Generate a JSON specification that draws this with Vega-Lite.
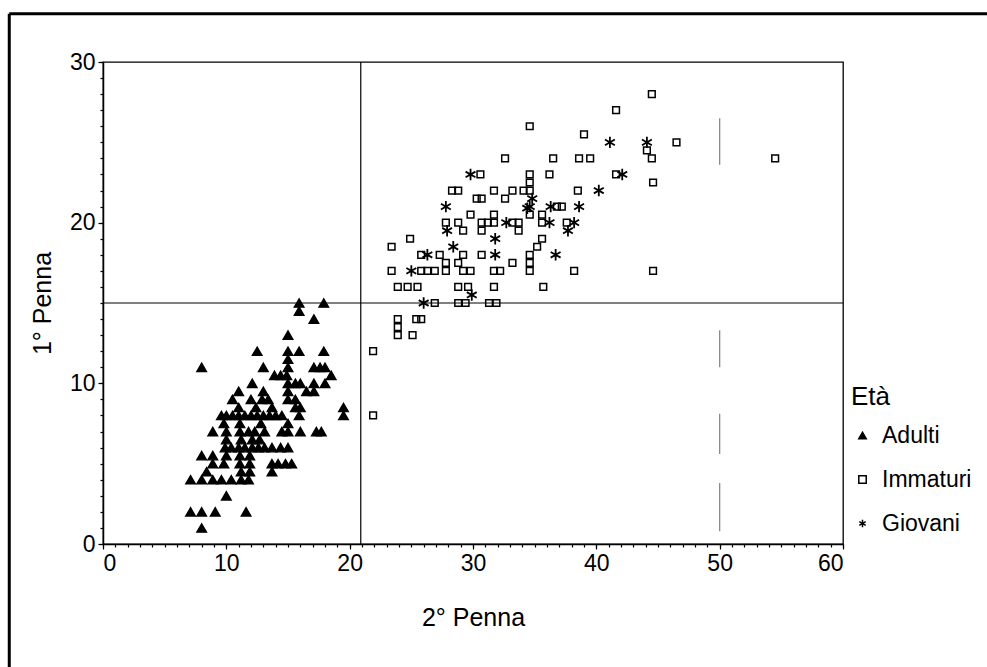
{
  "$schema": "https://vega.github.io/schema/vega-lite/v6.json",
  "width": 740,
  "height": 482,
  "autosize": {"type": "none"},
  "padding": {"left": 103, "top": 62, "right": 144, "bottom": 123},
  "background": "white",
  "resolve": {"axis": {"x": "independent", "y": "independent"}},
  "config": {
    "font": "Liberation Sans",
    "view": {"stroke": "black", "strokeWidth": 1.3},
    "axis": {
      "grid": false,
      "domainColor": "black",
      "domainWidth": 1.5,
      "tickColor": "black",
      "tickSize": 4,
      "tickWidth": 1.2,
      "labelColor": "black",
      "labelFontSize": 23,
      "labelFont": "Liberation Sans",
      "titleFont": "Liberation Sans",
      "titleFontSize": 25,
      "titleFontWeight": "normal",
      "titleColor": "black"
    },
    "legend": {
      "titleFont": "Liberation Sans",
      "titleFontSize": 26,
      "titleFontWeight": "normal",
      "titleColor": "black",
      "titlePadding": 14,
      "labelFont": "Liberation Sans",
      "labelFontSize": 23,
      "labelColor": "black",
      "labelOffset": 8,
      "rowPadding": 20,
      "symbolSize": 55
    }
  },
  "datasets": {
    "punti": [
      {"p2": 15.9, "p1": 15, "eta": "Adulti"}, {"p2": 17.9, "p1": 15, "eta": "Adulti"},
      {"p2": 15.9, "p1": 14.5, "eta": "Adulti"}, {"p2": 17.1, "p1": 14, "eta": "Adulti"},
      {"p2": 15.0, "p1": 13, "eta": "Adulti"},
      {"p2": 12.5, "p1": 12, "eta": "Adulti"}, {"p2": 15.0, "p1": 12, "eta": "Adulti"}, {"p2": 15.9, "p1": 12, "eta": "Adulti"}, {"p2": 17.9, "p1": 12, "eta": "Adulti"},
      {"p2": 15.0, "p1": 11.5, "eta": "Adulti"},
      {"p2": 8.0, "p1": 11, "eta": "Adulti"}, {"p2": 13.0, "p1": 11, "eta": "Adulti"}, {"p2": 15.0, "p1": 11, "eta": "Adulti"}, {"p2": 17.1, "p1": 11, "eta": "Adulti"}, {"p2": 17.6, "p1": 11, "eta": "Adulti"}, {"p2": 18.0, "p1": 11, "eta": "Adulti"},
      {"p2": 13.9, "p1": 10.5, "eta": "Adulti"}, {"p2": 14.4, "p1": 10.5, "eta": "Adulti"}, {"p2": 14.9, "p1": 10.5, "eta": "Adulti"}, {"p2": 18.5, "p1": 10.5, "eta": "Adulti"},
      {"p2": 12.1, "p1": 10, "eta": "Adulti"}, {"p2": 15.0, "p1": 10, "eta": "Adulti"}, {"p2": 15.6, "p1": 10, "eta": "Adulti"}, {"p2": 16.0, "p1": 10, "eta": "Adulti"}, {"p2": 17.1, "p1": 10, "eta": "Adulti"}, {"p2": 18.0, "p1": 10, "eta": "Adulti"},
      {"p2": 11.0, "p1": 9.5, "eta": "Adulti"}, {"p2": 13.0, "p1": 9.5, "eta": "Adulti"}, {"p2": 15.0, "p1": 9.5, "eta": "Adulti"}, {"p2": 16.5, "p1": 9.5, "eta": "Adulti"}, {"p2": 17.1, "p1": 9.5, "eta": "Adulti"},
      {"p2": 10.5, "p1": 9, "eta": "Adulti"}, {"p2": 12.0, "p1": 9, "eta": "Adulti"}, {"p2": 12.9, "p1": 9, "eta": "Adulti"}, {"p2": 13.4, "p1": 9, "eta": "Adulti"}, {"p2": 15.0, "p1": 9, "eta": "Adulti"}, {"p2": 15.6, "p1": 9, "eta": "Adulti"},
      {"p2": 11.0, "p1": 8.5, "eta": "Adulti"}, {"p2": 12.4, "p1": 8.5, "eta": "Adulti"}, {"p2": 13.7, "p1": 8.5, "eta": "Adulti"}, {"p2": 15.6, "p1": 8.5, "eta": "Adulti"}, {"p2": 16.0, "p1": 8.5, "eta": "Adulti"}, {"p2": 19.5, "p1": 8.5, "eta": "Adulti"},
      {"p2": 9.6, "p1": 8, "eta": "Adulti"}, {"p2": 10.0, "p1": 8, "eta": "Adulti"}, {"p2": 10.5, "p1": 8, "eta": "Adulti"}, {"p2": 11.0, "p1": 8, "eta": "Adulti"}, {"p2": 11.5, "p1": 8, "eta": "Adulti"}, {"p2": 12.0, "p1": 8, "eta": "Adulti"}, {"p2": 12.5, "p1": 8, "eta": "Adulti"}, {"p2": 13.0, "p1": 8, "eta": "Adulti"}, {"p2": 13.5, "p1": 8, "eta": "Adulti"}, {"p2": 14.0, "p1": 8, "eta": "Adulti"}, {"p2": 14.5, "p1": 8, "eta": "Adulti"}, {"p2": 15.9, "p1": 8, "eta": "Adulti"}, {"p2": 19.5, "p1": 8, "eta": "Adulti"},
      {"p2": 9.8, "p1": 7.5, "eta": "Adulti"}, {"p2": 11.1, "p1": 7.5, "eta": "Adulti"}, {"p2": 12.8, "p1": 7.5, "eta": "Adulti"}, {"p2": 15.0, "p1": 7.5, "eta": "Adulti"},
      {"p2": 8.9, "p1": 7, "eta": "Adulti"}, {"p2": 10.0, "p1": 7, "eta": "Adulti"}, {"p2": 11.1, "p1": 7, "eta": "Adulti"}, {"p2": 11.8, "p1": 7, "eta": "Adulti"}, {"p2": 12.3, "p1": 7, "eta": "Adulti"}, {"p2": 13.1, "p1": 7, "eta": "Adulti"}, {"p2": 14.5, "p1": 7, "eta": "Adulti"}, {"p2": 15.0, "p1": 7, "eta": "Adulti"}, {"p2": 16.0, "p1": 7, "eta": "Adulti"}, {"p2": 17.3, "p1": 7, "eta": "Adulti"}, {"p2": 17.7, "p1": 7, "eta": "Adulti"},
      {"p2": 10.0, "p1": 6.5, "eta": "Adulti"}, {"p2": 11.2, "p1": 6.5, "eta": "Adulti"}, {"p2": 12.1, "p1": 6.5, "eta": "Adulti"}, {"p2": 12.7, "p1": 6.5, "eta": "Adulti"},
      {"p2": 9.9, "p1": 6, "eta": "Adulti"}, {"p2": 10.4, "p1": 6, "eta": "Adulti"}, {"p2": 11.0, "p1": 6, "eta": "Adulti"}, {"p2": 11.5, "p1": 6, "eta": "Adulti"}, {"p2": 12.1, "p1": 6, "eta": "Adulti"}, {"p2": 12.6, "p1": 6, "eta": "Adulti"}, {"p2": 13.1, "p1": 6, "eta": "Adulti"}, {"p2": 13.7, "p1": 6, "eta": "Adulti"}, {"p2": 14.4, "p1": 6, "eta": "Adulti"}, {"p2": 15.0, "p1": 6, "eta": "Adulti"},
      {"p2": 8.0, "p1": 5.5, "eta": "Adulti"}, {"p2": 8.9, "p1": 5.5, "eta": "Adulti"}, {"p2": 10.0, "p1": 5.5, "eta": "Adulti"}, {"p2": 11.1, "p1": 5.5, "eta": "Adulti"}, {"p2": 11.9, "p1": 5.5, "eta": "Adulti"},
      {"p2": 8.9, "p1": 5, "eta": "Adulti"}, {"p2": 9.8, "p1": 5, "eta": "Adulti"}, {"p2": 11.1, "p1": 5, "eta": "Adulti"}, {"p2": 11.9, "p1": 5, "eta": "Adulti"}, {"p2": 13.7, "p1": 5, "eta": "Adulti"}, {"p2": 14.2, "p1": 5, "eta": "Adulti"}, {"p2": 14.8, "p1": 5, "eta": "Adulti"}, {"p2": 15.3, "p1": 5, "eta": "Adulti"},
      {"p2": 8.4, "p1": 4.5, "eta": "Adulti"}, {"p2": 11.2, "p1": 4.5, "eta": "Adulti"}, {"p2": 11.9, "p1": 4.5, "eta": "Adulti"}, {"p2": 13.7, "p1": 4.5, "eta": "Adulti"},
      {"p2": 7.1, "p1": 4, "eta": "Adulti"}, {"p2": 8.0, "p1": 4, "eta": "Adulti"}, {"p2": 8.9, "p1": 4, "eta": "Adulti"}, {"p2": 9.6, "p1": 4, "eta": "Adulti"}, {"p2": 10.4, "p1": 4, "eta": "Adulti"}, {"p2": 11.2, "p1": 4, "eta": "Adulti"}, {"p2": 11.8, "p1": 4, "eta": "Adulti"},
      {"p2": 10.0, "p1": 3, "eta": "Adulti"},
      {"p2": 7.1, "p1": 2, "eta": "Adulti"}, {"p2": 8.0, "p1": 2, "eta": "Adulti"}, {"p2": 9.1, "p1": 2, "eta": "Adulti"}, {"p2": 11.6, "p1": 2, "eta": "Adulti"},
      {"p2": 8.0, "p1": 1, "eta": "Adulti"},

      {"p2": 44.5, "p1": 28, "eta": "Immaturi"}, {"p2": 41.6, "p1": 27, "eta": "Immaturi"}, {"p2": 34.6, "p1": 26, "eta": "Immaturi"}, {"p2": 39.0, "p1": 25.5, "eta": "Immaturi"},
      {"p2": 46.5, "p1": 25, "eta": "Immaturi"}, {"p2": 44.1, "p1": 24.5, "eta": "Immaturi"},
      {"p2": 32.6, "p1": 24, "eta": "Immaturi"}, {"p2": 36.5, "p1": 24, "eta": "Immaturi"}, {"p2": 38.6, "p1": 24, "eta": "Immaturi"}, {"p2": 39.5, "p1": 24, "eta": "Immaturi"}, {"p2": 44.5, "p1": 24, "eta": "Immaturi"}, {"p2": 54.5, "p1": 24, "eta": "Immaturi"},
      {"p2": 30.6, "p1": 23, "eta": "Immaturi"}, {"p2": 34.6, "p1": 23, "eta": "Immaturi"}, {"p2": 36.2, "p1": 23, "eta": "Immaturi"}, {"p2": 41.6, "p1": 23, "eta": "Immaturi"},
      {"p2": 44.6, "p1": 22.5, "eta": "Immaturi"}, {"p2": 34.6, "p1": 22.5, "eta": "Immaturi"},
      {"p2": 28.3, "p1": 22, "eta": "Immaturi"}, {"p2": 28.8, "p1": 22, "eta": "Immaturi"}, {"p2": 31.7, "p1": 22, "eta": "Immaturi"}, {"p2": 33.2, "p1": 22, "eta": "Immaturi"}, {"p2": 34.1, "p1": 22, "eta": "Immaturi"}, {"p2": 34.6, "p1": 22, "eta": "Immaturi"}, {"p2": 38.5, "p1": 22, "eta": "Immaturi"},
      {"p2": 30.3, "p1": 21.5, "eta": "Immaturi"}, {"p2": 30.7, "p1": 21.5, "eta": "Immaturi"}, {"p2": 32.6, "p1": 21.5, "eta": "Immaturi"},
      {"p2": 36.8, "p1": 21, "eta": "Immaturi"}, {"p2": 37.2, "p1": 21, "eta": "Immaturi"},
      {"p2": 29.8, "p1": 20.5, "eta": "Immaturi"}, {"p2": 31.7, "p1": 20.5, "eta": "Immaturi"}, {"p2": 34.6, "p1": 20.5, "eta": "Immaturi"}, {"p2": 35.6, "p1": 20.5, "eta": "Immaturi"},
      {"p2": 27.8, "p1": 20, "eta": "Immaturi"}, {"p2": 28.8, "p1": 20, "eta": "Immaturi"}, {"p2": 30.7, "p1": 20, "eta": "Immaturi"}, {"p2": 31.2, "p1": 20, "eta": "Immaturi"}, {"p2": 31.7, "p1": 20, "eta": "Immaturi"}, {"p2": 33.2, "p1": 20, "eta": "Immaturi"}, {"p2": 33.7, "p1": 20, "eta": "Immaturi"}, {"p2": 35.6, "p1": 20, "eta": "Immaturi"}, {"p2": 37.6, "p1": 20, "eta": "Immaturi"},
      {"p2": 29.2, "p1": 19.5, "eta": "Immaturi"}, {"p2": 30.7, "p1": 19.5, "eta": "Immaturi"}, {"p2": 33.7, "p1": 19.5, "eta": "Immaturi"},
      {"p2": 24.9, "p1": 19, "eta": "Immaturi"}, {"p2": 35.6, "p1": 19, "eta": "Immaturi"},
      {"p2": 23.4, "p1": 18.5, "eta": "Immaturi"}, {"p2": 35.2, "p1": 18.5, "eta": "Immaturi"},
      {"p2": 25.8, "p1": 18, "eta": "Immaturi"}, {"p2": 27.3, "p1": 18, "eta": "Immaturi"}, {"p2": 29.2, "p1": 18, "eta": "Immaturi"}, {"p2": 30.7, "p1": 18, "eta": "Immaturi"}, {"p2": 34.6, "p1": 18, "eta": "Immaturi"},
      {"p2": 27.8, "p1": 17.5, "eta": "Immaturi"}, {"p2": 28.8, "p1": 17.5, "eta": "Immaturi"}, {"p2": 33.2, "p1": 17.5, "eta": "Immaturi"}, {"p2": 34.6, "p1": 17.5, "eta": "Immaturi"},
      {"p2": 23.4, "p1": 17, "eta": "Immaturi"}, {"p2": 25.8, "p1": 17, "eta": "Immaturi"}, {"p2": 26.3, "p1": 17, "eta": "Immaturi"}, {"p2": 26.9, "p1": 17, "eta": "Immaturi"}, {"p2": 27.8, "p1": 17, "eta": "Immaturi"}, {"p2": 29.2, "p1": 17, "eta": "Immaturi"}, {"p2": 29.8, "p1": 17, "eta": "Immaturi"}, {"p2": 31.7, "p1": 17, "eta": "Immaturi"}, {"p2": 32.2, "p1": 17, "eta": "Immaturi"}, {"p2": 34.6, "p1": 17, "eta": "Immaturi"}, {"p2": 38.2, "p1": 17, "eta": "Immaturi"}, {"p2": 44.6, "p1": 17, "eta": "Immaturi"},
      {"p2": 23.9, "p1": 16, "eta": "Immaturi"}, {"p2": 24.7, "p1": 16, "eta": "Immaturi"}, {"p2": 25.5, "p1": 16, "eta": "Immaturi"}, {"p2": 28.8, "p1": 16, "eta": "Immaturi"}, {"p2": 29.6, "p1": 16, "eta": "Immaturi"}, {"p2": 31.7, "p1": 16, "eta": "Immaturi"}, {"p2": 35.7, "p1": 16, "eta": "Immaturi"},
      {"p2": 26.9, "p1": 15, "eta": "Immaturi"}, {"p2": 28.8, "p1": 15, "eta": "Immaturi"}, {"p2": 29.4, "p1": 15, "eta": "Immaturi"}, {"p2": 31.3, "p1": 15, "eta": "Immaturi"}, {"p2": 31.9, "p1": 15, "eta": "Immaturi"},
      {"p2": 23.9, "p1": 14, "eta": "Immaturi"}, {"p2": 25.4, "p1": 14, "eta": "Immaturi"}, {"p2": 25.8, "p1": 14, "eta": "Immaturi"},
      {"p2": 23.9, "p1": 13.5, "eta": "Immaturi"}, {"p2": 23.9, "p1": 13, "eta": "Immaturi"}, {"p2": 25.1, "p1": 13, "eta": "Immaturi"},
      {"p2": 21.9, "p1": 12, "eta": "Immaturi"}, {"p2": 21.9, "p1": 8, "eta": "Immaturi"},

      {"p2": 41.1, "p1": 25, "eta": "Giovani"}, {"p2": 44.1, "p1": 25, "eta": "Giovani"},
      {"p2": 29.8, "p1": 23, "eta": "Giovani"}, {"p2": 42.1, "p1": 23, "eta": "Giovani"},
      {"p2": 40.2, "p1": 22, "eta": "Giovani"},
      {"p2": 34.8, "p1": 21.5, "eta": "Giovani"},
      {"p2": 27.8, "p1": 21, "eta": "Giovani"}, {"p2": 34.6, "p1": 21, "eta": "Giovani"}, {"p2": 34.4, "p1": 20.9, "eta": "Giovani"}, {"p2": 36.3, "p1": 21, "eta": "Giovani"}, {"p2": 38.6, "p1": 21, "eta": "Giovani"},
      {"p2": 32.7, "p1": 20, "eta": "Giovani"}, {"p2": 36.2, "p1": 20, "eta": "Giovani"}, {"p2": 38.2, "p1": 20, "eta": "Giovani"},
      {"p2": 27.9, "p1": 19.5, "eta": "Giovani"}, {"p2": 37.7, "p1": 19.5, "eta": "Giovani"},
      {"p2": 31.8, "p1": 19, "eta": "Giovani"},
      {"p2": 28.4, "p1": 18.5, "eta": "Giovani"},
      {"p2": 26.3, "p1": 18, "eta": "Giovani"}, {"p2": 31.8, "p1": 18, "eta": "Giovani"}, {"p2": 36.7, "p1": 18, "eta": "Giovani"},
      {"p2": 25.0, "p1": 17, "eta": "Giovani"},
      {"p2": 29.9, "p1": 15.5, "eta": "Giovani"}, {"p2": 26.0, "p1": 15, "eta": "Giovani"}
    ],
    "tratti50": [
      {"x": 50, "da": 26.5, "a": 23.6},
      {"x": 50, "da": 13.3, "a": 11.0},
      {"x": 50, "da": 8.1, "a": 5.6},
      {"x": 50, "da": 3.8, "a": 0.8}
    ],
    "riferimenti": [
      {"p2": 20.9, "p1": 15}
    ]
  },
  "layer": [
    {
      "data": {"name": "punti"},
      "encoding": {
        "x": {
          "field": "p2", "type": "quantitative",
          "scale": {"domain": [0, 60], "nice": false, "zero": false},
          "axis": {
            "orient": "bottom",
            "title": "2° Penna",
            "values": [0, 10, 20, 30, 40, 50, 60],
            "tickSize": 5,
            "labelOverlap": false,
            "labelPadding": 3,
            "titlePadding": 30
          }
        },
        "y": {
          "field": "p1", "type": "quantitative",
          "scale": {"domain": [0, 30], "nice": false, "zero": false},
          "axis": {
            "orient": "left",
            "title": "1° Penna",
            "values": [0, 10, 20, 30],
            "tickSize": 5,
            "labelOverlap": false,
            "labelPadding": 3,
            "titlePadding": 14
          }
        },
        "shape": {
          "field": "eta", "type": "nominal", "title": "Età",
          "scale": {
            "domain": ["Adulti", "Immaturi", "Giovani"],
            "range": ["triangle-up", "square", "M0,-1L0,1M-0.866,-0.5L0.866,0.5M-0.866,0.5L0.866,-0.5"]
          },
          "legend": {
            "orient": "none", "legendX": 748, "legendY": 322,
            "encode": {"symbols": {"update": {"stroke": {"value": "black"}, "strokeWidth": {"value": 1.3}}}}
          }
        },
        "fill": {
          "field": "eta", "type": "nominal", "title": "Età",
          "scale": {
            "domain": ["Adulti", "Immaturi", "Giovani"],
            "range": ["black", "transparent", "transparent"]
          },
          "legend": {
            "orient": "none", "legendX": 748, "legendY": 322,
            "encode": {"symbols": {"update": {"stroke": {"value": "black"}, "strokeWidth": {"value": 1.3}}}}
          }
        }
      },
      "layer": [
        {
          "transform": [{"filter": "datum.eta === 'Adulti'"}],
          "mark": {"type": "point", "stroke": "black", "strokeWidth": 1.3, "opacity": 1, "size": 95}
        },
        {
          "transform": [{"filter": "datum.eta === 'Immaturi'"}],
          "mark": {"type": "point", "stroke": "black", "strokeWidth": 1.5, "opacity": 1, "size": 45}
        },
        {
          "transform": [{"filter": "datum.eta === 'Giovani'"}],
          "mark": {"type": "point", "stroke": "black", "strokeWidth": 1.8, "opacity": 1, "size": 130}
        }
      ]
    },
    {
      "data": {"name": "tratti50"},
      "mark": {"type": "rule", "color": "#8a8a8a", "strokeWidth": 1.3},
      "encoding": {
        "x": {
          "field": "x", "type": "quantitative",
          "axis": {
            "orient": "bottom", "title": null, "labels": false, "domain": false, "tickSize": 3,
            "values": [0,1,2,3,4,5,6,7,8,9,10,11,12,13,14,15,16,17,18,19,20,21,22,23,24,25,26,27,28,29,30,31,32,33,34,35,36,37,38,39,40,41,42,43,44,45,46,47,48,49,50,51,52,53,54,55,56,57,58,59,60]
          }
        },
        "y": {
          "field": "da", "type": "quantitative",
          "axis": {
            "orient": "left", "title": null, "labels": false, "domain": false, "tickSize": 3,
            "values": [0,1,2,3,4,5,6,7,8,9,10,11,12,13,14,15,16,17,18,19,20,21,22,23,24,25,26,27,28,29,30]
          }
        },
        "y2": {"field": "a"}
      }
    },
    {
      "data": {"name": "riferimenti"},
      "mark": {"type": "rule", "color": "black", "strokeWidth": 1.2},
      "encoding": {"x": {"field": "p2", "type": "quantitative", "axis": null}}
    },
    {
      "data": {"name": "riferimenti"},
      "mark": {"type": "rule", "color": "black", "strokeWidth": 1.2},
      "encoding": {"y": {"field": "p1", "type": "quantitative", "axis": null}}
    },
    {
      "data": {"values": [{"lato": "sinistro"}]},
      "mark": {"type": "rule", "color": "black", "strokeWidth": 3},
      "encoding": {
        "x": {"datum": -7.6, "type": "quantitative", "axis": null},
        "y": {"datum": 33, "type": "quantitative", "axis": null},
        "y2": {"datum": -7.8}
      }
    },
    {
      "data": {"values": [{"lato": "alto"}]},
      "mark": {"type": "rule", "color": "black", "strokeWidth": 3},
      "encoding": {
        "y": {"datum": 33, "type": "quantitative", "axis": null},
        "x": {"datum": -7.6, "type": "quantitative", "axis": null},
        "x2": {"datum": 72}
      }
    }
  ]
}
